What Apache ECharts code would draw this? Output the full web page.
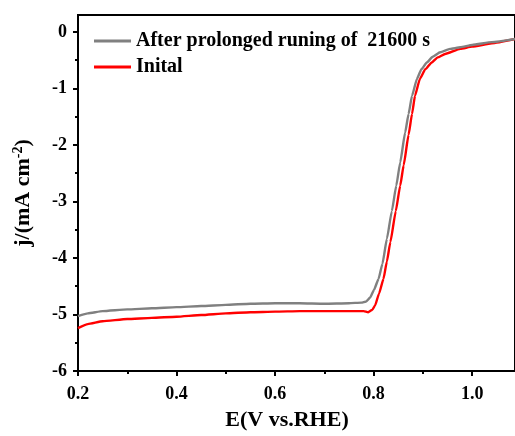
<!DOCTYPE html>
<html>
<head>
<meta charset="utf-8">
<script src="https://cdn.jsdelivr.net/npm/echarts@6/dist/echarts.min.js"></script>
<style>html,body{margin:0;padding:0;background:#fff;}#c{width:515px;height:436px;}</style>
</head>
<body>
<div id="c"></div>
<script>
var seriesNames = ['After prolonged runing of  21600 s', 'Inital'];
var afterX = [0.2,0.22,0.25,0.3,0.35,0.4,0.45,0.5,0.55,0.6,0.65,0.7,0.75,0.775,0.785,0.793,0.801,0.81,0.818,0.827,0.837,0.846,0.854,0.864,0.871,0.878,0.888,0.897,0.908,0.92,0.935,0.955,0.976,1.0,1.04,1.09];
var afterY = [-5.03,-4.98,-4.94,-4.91,-4.89,-4.87,-4.85,-4.83,-4.81,-4.80,-4.80,-4.81,-4.80,-4.79,-4.77,-4.70,-4.56,-4.37,-4.10,-3.66,-3.17,-2.72,-2.31,-1.78,-1.45,-1.13,-0.83,-0.66,-0.54,-0.44,-0.36,-0.30,-0.27,-0.23,-0.18,-0.12];
var initX = [0.2,0.22,0.25,0.3,0.35,0.4,0.45,0.5,0.55,0.6,0.65,0.7,0.75,0.78,0.789,0.797,0.803,0.811,0.82,0.827,0.834,0.845,0.854,0.861,0.871,0.878,0.884,0.894,0.905,0.918,0.93,0.945,0.976,1.0,1.04,1.09];
var initY = [-5.24,-5.17,-5.12,-5.08,-5.06,-5.04,-5.01,-4.98,-4.96,-4.95,-4.94,-4.94,-4.94,-4.94,-4.96,-4.92,-4.84,-4.63,-4.37,-4.06,-3.72,-3.17,-2.72,-2.36,-1.82,-1.45,-1.13,-0.83,-0.66,-0.54,-0.45,-0.39,-0.30,-0.26,-0.20,-0.12];
var xMajor = [0.2,0.4,0.6,0.8,1.0];
var xMinor = [0.3,0.5,0.7,0.9];
var yMajor = [-6,-5,-4,-3,-2,-1,0];
var yMinor = [-5.5,-4.5,-3.5,-2.5,-1.5,-0.5];
var xLabels = ['0.2','0.4','0.6','0.8','1.0'];

function pairs(xs, ys){ return xs.map(function(x,i){ return [x, ys[i]]; }); }

var FONT = '"Liberation Serif","Times New Roman",serif';
var chart = echarts.init(document.getElementById('c'), null, {renderer:'canvas'});
var axisLine = {show:true, onZero:false, lineStyle:{color:'#000', width:2}};
chart.setOption({
  animation:false,
  backgroundColor:'#fff',
  grid:{left:78, top:15, right:0, bottom:64, show:true, borderColor:'#000', borderWidth:2, backgroundColor:'transparent', containLabel:false},
  legend:{
    orient:'vertical', left:94, top:31, padding:0, itemWidth:37, itemHeight:3, itemGap:6, icon:'rect',
    data:seriesNames,
    textStyle:{fontFamily:FONT, fontWeight:'bold', fontSize:20, color:'#000', lineHeight:20}
  },
  xAxis:[{
    type:'value', min:0.2, max:1.087, position:'bottom',
    axisLine:axisLine,
    axisTick:{show:true, inside:false, length:5, lineStyle:{width:2,color:'#000'}, customValues:xMajor},
    axisLabel:{show:true, margin:14, customValues:xMajor, color:'#000', fontFamily:FONT, fontWeight:'bold', fontSize:18,
      formatter:function(v){ var i = xMajor.indexOf(Math.round(v*10)/10); return i>=0 ? xLabels[i] : ''; }},
    splitLine:{show:false},
    name:'E(V vs.RHE)', nameLocation:'middle', nameGap:38,
    nameTextStyle:{fontFamily:FONT, fontWeight:'bold', fontSize:22, color:'#000', padding:[0,19,0,0]}
  },{
    type:'value', min:0.2, max:1.087, position:'bottom',
    axisLine:{show:false, onZero:false},
    axisTick:{show:true, inside:false, length:3, lineStyle:{width:2,color:'#000'}, customValues:xMinor},
    axisLabel:{show:false}, splitLine:{show:false}
  }],
  yAxis:[{
    type:'value', min:-6, max:0.3, position:'left',
    axisLine:axisLine,
    axisTick:{show:true, inside:false, length:5, lineStyle:{width:2,color:'#000'}, customValues:yMajor},
    axisLabel:{show:true, margin:11, customValues:yMajor, color:'#000', fontFamily:FONT, fontWeight:'bold', fontSize:18},
    splitLine:{show:false},
    name:'{a|j/(mA cm}{s|-2}{a|)}', nameLocation:'middle', nameGap:43,
    nameTextStyle:{rich:{
      a:{fontFamily:FONT, fontWeight:'bold', fontSize:22, color:'#000'},
      s:{fontFamily:FONT, fontWeight:'bold', fontSize:14, color:'#000', padding:[0,0,10,0]}
    }}
  },{
    type:'value', min:-6, max:0.3, position:'left',
    axisLine:{show:false, onZero:false},
    axisTick:{show:true, inside:false, length:3, lineStyle:{width:2,color:'#000'}, customValues:yMinor},
    axisLabel:{show:false}, splitLine:{show:false}
  }],
  series:[{
    name:seriesNames[0], type:'line', xAxisIndex:0, yAxisIndex:0, data:pairs(afterX, afterY),
    symbol:'none', smooth:0.15, smoothMonotone:'x', lineStyle:{color:'#808080', width:2.4}, itemStyle:{color:'#808080'}, z:3
  },{
    name:seriesNames[1], type:'line', xAxisIndex:0, yAxisIndex:0, data:pairs(initX, initY),
    symbol:'none', smooth:0.15, smoothMonotone:'x', lineStyle:{color:'#ff0000', width:2.4}, itemStyle:{color:'#ff0000'}, z:2
  }]
});
</script>
</body>
</html>
